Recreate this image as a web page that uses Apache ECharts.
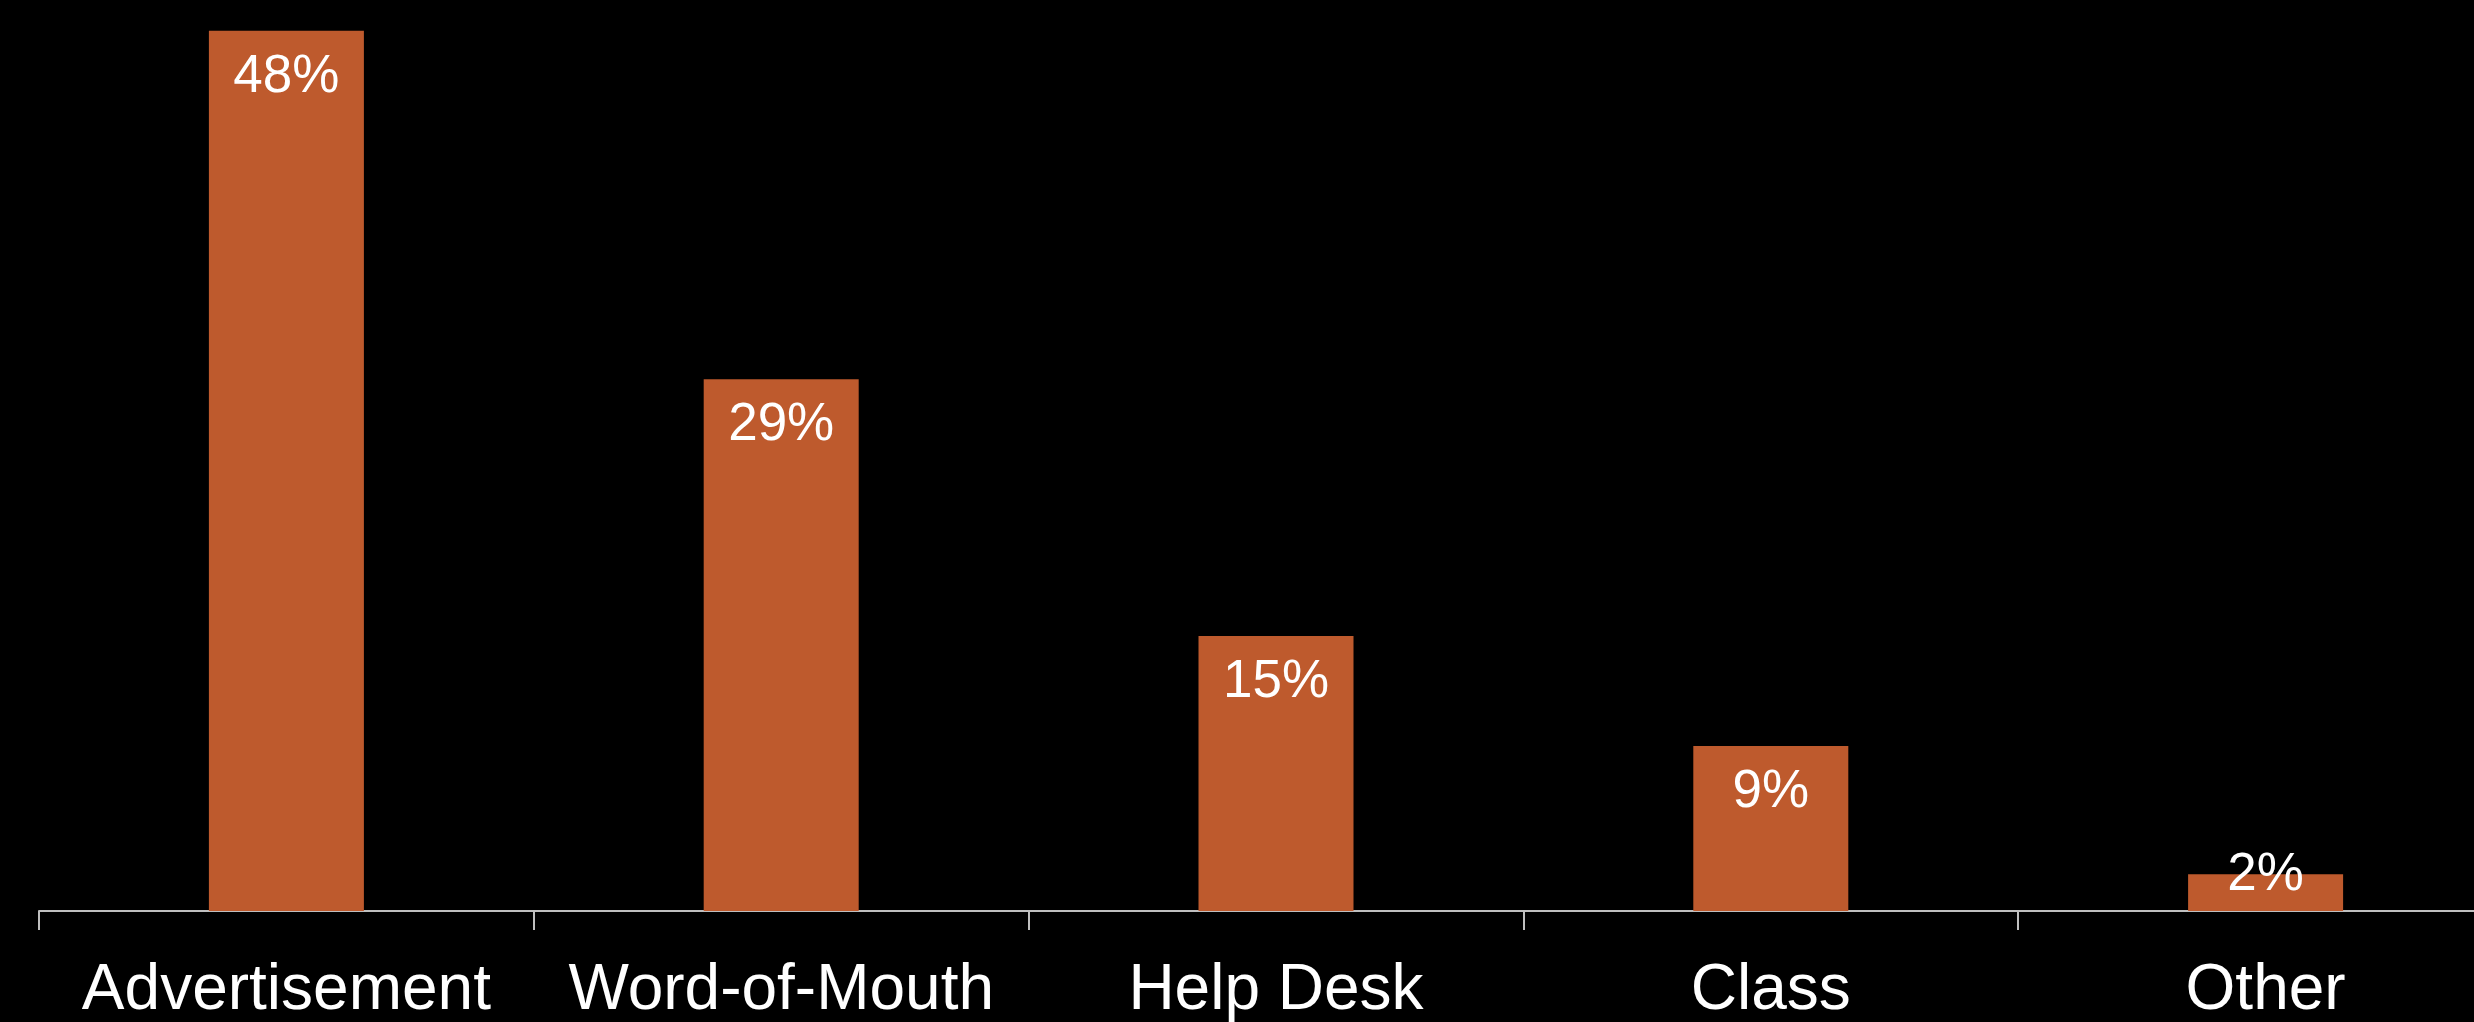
<!DOCTYPE html>
<html>
<head>
<meta charset="utf-8">
<title>Source</title>
<script src="https://cdn.jsdelivr.net/npm/echarts@6/dist/echarts.min.js"></script>
<style>
  html, body { margin: 0; padding: 0; background: #000; }
  #chart { width: 2474px; height: 1022px; }
</style>
</head>
<body>
<div id="chart"></div>
<script>
// Where respondents heard about the service (share of responses, %)
const categories = ['Advertisement', 'Word-of-Mouth', 'Help Desk', 'Class', 'Other'];
const shares = [48, 29, 15, 9, 2];

const BAR_COLOR = '#BE5A2D';
const AXIS_COLOR = '#BFBFBF';
const FONT = '"Liberation Sans", Arial, sans-serif';

// Short bars can't hold their label inside, so it sits over the bar top instead
const barData = shares.map(function (v) {
  if (v < 5) {
    return { value: v, label: { position: 'top', distance: -28 } };
  }
  return v;
});

const chart = echarts.init(document.getElementById('chart'), null, { renderer: 'canvas' });
chart.setOption({
  backgroundColor: '#000000',
  animation: false,
  // the plot runs past the right edge, so the last category is cropped
  grid: { left: 39, right: -39, top: -6, bottom: 111, containLabel: false, outerBoundsMode: 'none' },
  xAxis: {
    type: 'category',
    data: categories,
    boundaryGap: true,
    axisLine: { show: true, lineStyle: { color: AXIS_COLOR, width: 2 } },
    axisTick: { show: true, alignWithLabel: false, length: 19, lineStyle: { color: AXIS_COLOR, width: 2 } },
    axisLabel: {
      color: '#FFFFFF',
      fontFamily: FONT,
      fontSize: 64,
      lineHeight: 64,
      margin: 48,
      interval: 0
    },
    splitLine: { show: false }
  },
  yAxis: {
    type: 'value',
    min: 0,
    max: 50,
    show: false,
    splitLine: { show: false }
  },
  series: [{
    type: 'bar',
    data: barData,
    barWidth: 155,
    itemStyle: { color: BAR_COLOR },
    label: {
      show: true,
      position: 'insideTop',
      distance: 20,
      color: '#FFFFFF',
      fontFamily: FONT,
      fontSize: 53,
      lineHeight: 53,
      formatter: '{c}%'
    }
  }]
});
</script>
</body>
</html>
